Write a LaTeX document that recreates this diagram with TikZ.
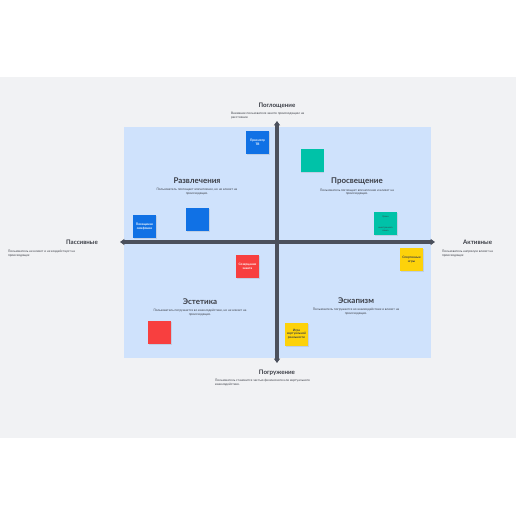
\documentclass[tikz,border=0pt]{standalone}
\usepackage{fontspec}
\setmainfont{Lato}
\usetikzlibrary{arrows.meta,positioning,shadows}
\definecolor{bandgray}{HTML}{F1F2F4}
\definecolor{fieldblue}{HTML}{CFE2FC}
\definecolor{axisgray}{HTML}{4B505C}
\definecolor{titlegray}{HTML}{3A3D45}
\definecolor{noteblue}{HTML}{1071E5}
\definecolor{noteteal}{HTML}{00C2A8}
\definecolor{notered}{HTML}{F83F3F}
\definecolor{noteyellow}{HTML}{FDD20A}

\begin{document}
\begin{tikzpicture}[x=0.5mm,y=-0.5mm,
  axisline/.style={line width=1.6mm,draw=axisgray,{Triangle[length=2.2mm,width=3mm]}-{Triangle[length=2.2mm,width=3mm]}},
  axtitle/.style={font=\fontsize{8.8}{10}\selectfont\bfseries,text=titlegray,inner sep=0pt},
  qtitle/.style={font=\fontsize{11.3}{13}\selectfont\bfseries,text=titlegray,inner sep=0pt},
  smalltext/.style={font=\fontsize{4.5}{5.4}\selectfont,text=titlegray,inner sep=0pt},
  sticky/.style={minimum size=11.5mm,inner sep=0.5mm,text width=10.5mm,align=center,
    font=\fontsize{4.5}{5.4}\selectfont\bfseries,
    drop shadow={opacity=0.2,shadow xshift=0.4mm,shadow yshift=-0.5mm}}]
  \useasboundingbox (0,0) rectangle (516,516);
  % background band and field
  \fill[bandgray] (0,77) rectangle (516,438);
  \fill[fieldblue] (124,127) rectangle (431,358);
  % axes
  \coordinate (west) at (120,242);
  \coordinate (east) at (435,242);
  \coordinate (north) at (277,121);
  \coordinate (south) at (277,363);
  \draw[axisline] (west) -- (east);
  \draw[axisline] (south) -- (north);
  % axis labels
  \node[axtitle] (absorb) at (277,106) {Поглощение};
  \node[smalltext,anchor=north west,align=left] (absorbnote) at (231,112.5)
    {Внимание пользователя занято происходящим на\\расстоянии};
  \node[axtitle] (immerse) at (277,373) {Погружение};
  \node[smalltext,anchor=north west,align=left] (immersenote) at (215,379.5)
    {Пользователь становится частью физического или виртуального\\взаимодействия.};
  \node[axtitle,anchor=east] (passive) at (98,242) {Пассивные};
  \node[smalltext,anchor=north west,align=left] (passivenote) at (8,250.5)
    {Пользователь не влияет и не воздействует на\\происходящее};
  \node[axtitle,anchor=west] (active) at (463,242) {Активные};
  \node[smalltext,anchor=north west,align=left] (activenote) at (442,250.5)
    {Пользователь напрямую влияет на\\происходящее};
  % quadrant titles
  \node[qtitle] (fun) at (197,181) {Развлечения};
  \node[smalltext,align=center,below=2mm of fun] (funnote)
    {Пользователь поглощает впечатление, но не влияет на\\происходящее.};
  \node[qtitle] (edu) at (357,181) {Просвещение};
  \node[smalltext,align=center,below=2mm of edu] (edunote)
    {Пользователь поглощает впечатление и влияет на\\происходящее.};
  \node[qtitle] (esth) at (200,302) {Эстетика};
  \node[smalltext,align=center,below=2mm of esth] (esthnote)
    {Пользователь погружается во взаимодействие, но не влияет на\\происходящее.};
  \node[qtitle] (escape) at (356,301) {Эскапизм};
  \node[smalltext,align=center,below=2mm of escape] (escapenote)
    {Пользователь погружается во взаимодействие и влияет на\\происходящее.};
  % sticky notes
  \node[sticky,fill=noteblue,text=white] (tv) at (257.5,142.5) {Просмотр\\ТВ};
  \node[sticky,fill=noteblue] (blueblank) at (197.5,219.5) {};
  \node[sticky,fill=noteblue,text=white] (concert) at (144.5,226.5) {Посещение\\симфонии};
  \node[sticky,fill=noteteal] (tealblank) at (312,160.5) {};
  \node[sticky,fill=noteteal,text=titlegray,font=\fontsize{3.2}{3.8}\selectfont] (lesson) at (385.5,223.5)
    {Уроки\\[4.5mm]иностранного\\языка};
  \node[sticky,fill=notered,text=white] (sunset) at (247.5,266.5) {Созерцание\\заката};
  \node[sticky,fill=notered] (redblank) at (159.5,332.5) {};
  \node[sticky,fill=noteyellow,text=titlegray] (sport) at (411.5,259.5) {Спортивные\\игры};
  \node[sticky,fill=noteyellow,text=titlegray] (vr) at (296.5,334) {Игра\\виртуальной\\реальности};
\end{tikzpicture}
\end{document}
